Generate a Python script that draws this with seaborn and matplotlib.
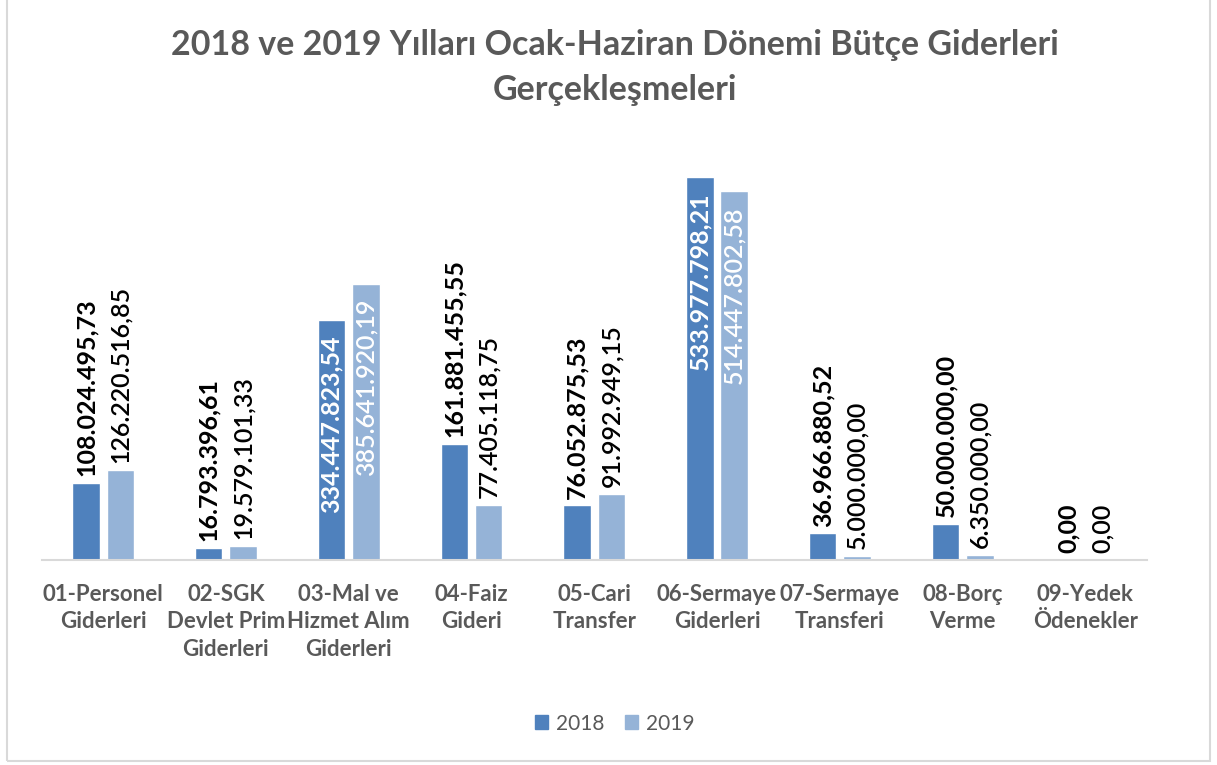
import matplotlib
matplotlib.use("Agg")
import matplotlib.pyplot as plt
import seaborn as sns
import pandas as pd
from matplotlib.patches import Rectangle

# kategoriler ve yıllara göre gerçekleşmeler (TL)
categories = [
    "01-Personel\nGiderleri",
    "02-SGK\nDevlet Prim\nGiderleri",
    "03-Mal ve\nHizmet Alım\nGiderleri",
    "04-Faiz\nGideri",
    "05-Cari\nTransfer",
    "06-Sermaye\nGiderleri",
    "07-Sermaye\nTransferi",
    "08-Borç\nVerme",
    "09-Yedek\nÖdenekler",
]
values_2018 = [108024495.73, 16793396.61, 334447823.54, 161881455.55, 76052875.53,
               533977798.21, 36966880.52, 50000000.00, 0.00]
values_2019 = [126220516.85, 19579101.33, 385641920.19, 77405118.75, 91992949.15,
               514447802.58, 5000000.00, 6350000.00, 0.00]
years = ["2018", "2019"]
colors = ["#4F81BD", "#95B3D7"]

df = pd.DataFrame({
    "kategori": categories * 2,
    "tutar": values_2018 + values_2019,
    "yil": [years[0]] * len(categories) + [years[1]] * len(categories),
})


def tr_format(v):
    s = f"{v:,.2f}"
    return s.replace(",", "X").replace(".", ",").replace("X", ".")


sns.set_theme(style="white")
plt.rcParams["font.family"] = ["Lato", "DejaVu Sans"]

fig = plt.figure(figsize=(12.17, 7.65), dpi=100)
ax = fig.add_axes([0.0343, 0.268, 0.908, 0.562])

sns.barplot(data=df, x="kategori", y="tutar", hue="yil", palette=colors,
            width=0.56, gap=0.2, saturation=1, edgecolor="white", linewidth=1,
            legend=False, ax=ax)

ax.set_ylim(0, 600e6)
ax.set_xlim(-0.5, len(categories) - 0.5)
ax.set_yticks([])
ax.set_xlabel("")
ax.set_ylabel("")
for side in ["left", "right", "top"]:
    ax.spines[side].set_visible(False)
ax.spines["bottom"].set_color("#D9D9D9")
ax.spines["bottom"].set_linewidth(1.5)
ax.tick_params(axis="x", length=0, pad=17)
for lbl in ax.get_xticklabels():
    lbl.set_fontsize(16)
    lbl.set_fontweight("bold")
    lbl.set_color("#595959")
    lbl.set_linespacing(1.4)

# veri etiketleri
for i, container in enumerate(ax.containers):
    weight = "bold" if i == 0 else "semibold"
    for bar in container:
        h = bar.get_height()
        xc = bar.get_x() + bar.get_width() / 2
        if h > 300e6:
            ax.annotate(tr_format(h), (xc, h), xytext=(0, -11), textcoords="offset points",
                        rotation=90, ha="center", va="top", color="white",
                        fontsize=18, fontweight=weight)
        else:
            ax.annotate(tr_format(h), (xc, h), xytext=(0, 5), textcoords="offset points",
                        rotation=90, ha="center", va="bottom", color="black",
                        fontsize=18, fontweight=weight)

fig.suptitle("2018 ve 2019 Yılları Ocak-Haziran Dönemi Bütçe Giderleri\nGerçekleşmeleri",
             x=0.505, y=0.962, fontsize=24.5, fontweight="bold", color="#595959",
             linespacing=1.5)

handles = [Rectangle((0, 0), 1, 1, color=c) for c in colors]
fig.legend(handles, years, loc="center", bbox_to_anchor=(0.505, 0.054), ncol=2,
           frameon=False, fontsize=15, labelcolor="#595959", handlelength=0.65,
           handleheight=0.65, handletextpad=0.35, columnspacing=1.0)

# çerçeve
fig.patches.append(Rectangle((0.006, 0.005), 0.9885, 1.2, transform=fig.transFigure,
                             fill=False, edgecolor="#D9D9D9", linewidth=1.5))

fig.savefig("out.png", dpi=100, facecolor="white")
